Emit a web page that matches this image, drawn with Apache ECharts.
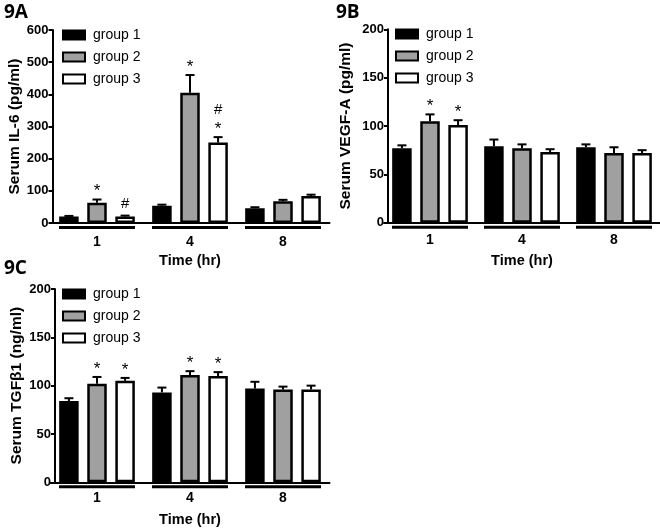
<!DOCTYPE html>
<html>
<head>
<meta charset="utf-8">
<script src="https://cdn.jsdelivr.net/npm/echarts@6/dist/echarts.min.js"></script>
<style>html,body{margin:0;padding:0;background:#fff}#c{width:660px;height:530px}</style>
</head>
<body>
<div id="c"></div>
<script>
// ---- data ----
const categories = ['1', '4', '8'];
const groupNames = ['group 1', 'group 2', 'group 3'];
const panelTitles = ['9A', '9B', '9C'];
const yNames = ['Serum IL-6 (pg/ml)', 'Serum VEGF-A (pg/ml)', 'Serum TGFβ1 (ng/ml)'];
const xName = 'Time (hr)';
const yMax = [600, 200, 200];
const yStep = [100, 50, 50];

// IL-6 (9A)
const il6_g1 = [20, 54, 46];
const il6_g1_err = [2, 3, 3];
const il6_g2 = [63, 405, 68];
const il6_g2_err = [10, 55, 4];
const il6_g3 = [20, 250, 84];
const il6_g3_err = [3, 17, 4];
const il6_g1_ann = ['', '', ''];
const il6_g2_ann = ['*', '*', ''];
const il6_g3_ann = ['#', '#\n*', ''];

// VEGF-A (9B)
const vegf_g1 = [77, 79, 78];
const vegf_g1_err = [3, 7, 3];
const vegf_g2 = [105, 77, 72];
const vegf_g2_err = [7, 4, 6];
const vegf_g3 = [101, 73, 72];
const vegf_g3_err = [5, 3, 3];
const vegf_g1_ann = ['', '', ''];
const vegf_g2_ann = ['*', '', ''];
const vegf_g3_ann = ['*', '', ''];

// TGFβ1 (9C)
const tgf_g1 = [84, 93, 97];
const tgf_g1_err = [3, 5, 7];
const tgf_g2 = [102, 111, 96];
const tgf_g2_err = [7, 4, 3];
const tgf_g3 = [105, 110, 96];
const tgf_g3_err = [3, 4, 4];
const tgf_g1_ann = ['', '', ''];
const tgf_g2_ann = ['*', '*', ''];
const tgf_g3_ann = ['*', '*', ''];

// ---- assembly ----
const means = [[il6_g1, il6_g2, il6_g3], [vegf_g1, vegf_g2, vegf_g3], [tgf_g1, tgf_g2, tgf_g3]];
const errs = [[il6_g1_err, il6_g2_err, il6_g3_err], [vegf_g1_err, vegf_g2_err, vegf_g3_err], [tgf_g1_err, tgf_g2_err, tgf_g3_err]];
const anns = [[il6_g1_ann, il6_g2_ann, il6_g3_ann], [vegf_g1_ann, vegf_g2_ann, vegf_g3_ann], [tgf_g1_ann, tgf_g2_ann, tgf_g3_ann]];

const FONT = 'Liberation Sans, Arial, sans-serif';
const fills = ['#000000', '#a0a0a0', '#ffffff'];
const BAR_W = 19.5;
const BAR_GAP = 0.44;
const STEP = BAR_W * (1 + BAR_GAP);

const grids = [
  { left: 50.5, top: 30, width: 279, height: 193 },
  { left: 384, top: 29.3, width: 276, height: 193.4 },
  { left: 50.5, top: 289, width: 279, height: 193.3 }
];
const yOffsets = [-2, -4, -4.5];
const yNameGaps = [30, 34, 30];
const xLabelMargins = [12.5, 10, 9];
const xNameGaps = [30, 30.5, 30];
const legendPos = [{ left: 62, top: 28 }, { left: 395, top: 27 }, { left: 62, top: 287 }];
const titlePos = [{ left: 4, top: 3 }, { left: 336, top: 3 }, { left: 4, top: 259 }];

const series = [];
for (let p = 0; p < 3; p++) {
  for (let g = 0; g < 3; g++) {
    series.push({
      type: 'bar', name: groupNames[g], xAxisIndex: p, yAxisIndex: p,
      data: means[p][g], barWidth: BAR_W, barGap: (BAR_GAP * 100) + '%',
      itemStyle: { color: fills[g], borderColor: '#000', borderWidth: 2.5 },
      emphasis: { disabled: true }, z: 2
    });
  }
  for (let g = 0; g < 3; g++) {
    const m = means[p][g], e = errs[p][g], a = anns[p][g];
    series.push({
      type: 'custom', name: 'err' + p + g, xAxisIndex: p, yAxisIndex: p, z: 3,
      encode: { x: 0, y: 1 },
      data: m.map((v, i) => [i, v, e[i]]),
      renderItem: function (params, api) {
        const base = api.coord([api.value(0), api.value(1)]);
        const top = api.coord([api.value(0), api.value(1) + api.value(2)]);
        const x = base[0] + (g - 1) * STEP;
        const children = [
          { type: 'line', shape: { x1: x, y1: base[1], x2: x, y2: top[1] }, style: { stroke: '#000', lineWidth: 2 } },
          { type: 'line', shape: { x1: x - 4.5, y1: top[1], x2: x + 4.5, y2: top[1] }, style: { stroke: '#000', lineWidth: 2 } }
        ];
        const t = a[params.dataIndex];
        if (t) {
          const lines = t.split('\n').reverse();
          lines.forEach((ln, k) => {
            const target = top[1] - 12 - 15 * k;
            const yy = ln === '*' ? target + 4 : target;
            children.push({
              type: 'text', x: x, y: yy,
              style: { text: ln, fill: '#000', font: (ln === '*' ? '17px ' : '15px ') + FONT, align: 'center', verticalAlign: 'middle' }
            });
          });
        }
        return { type: 'group', children: children };
      }
    });
  }
  series.push({
    type: 'custom', name: 'under' + p, xAxisIndex: p, yAxisIndex: p, z: 3,
    encode: { x: 0, y: 1 },
    data: categories.map((c, i) => [i, 0]),
    renderItem: function (params, api) {
      const c = api.coord([api.value(0), 0]);
      return { type: 'line', shape: { x1: c[0] - 38, y1: c[1] + 4.5, x2: c[0] + 38, y2: c[1] + 4.5 }, style: { stroke: '#000', lineWidth: 3 } };
    }
  });
}

const option = {
  animation: false,
  backgroundColor: '#fff',
  title: panelTitles.map((t, i) => ({
    text: t, left: titlePos[i].left, top: titlePos[i].top, padding: 0,
    textStyle: { fontSize: 19, fontWeight: 'bold', fontFamily: 'Open Sans', color: '#000' }
  })),
  legend: legendPos.map((lp) => ({
    orient: 'vertical', left: lp.left, top: lp.top, icon: 'rect', padding: 0,
    itemWidth: 22, itemHeight: 9, itemGap: 8, selectedMode: false,
    data: groupNames.map((n, g) => ({ name: n, itemStyle: { color: fills[g], borderColor: '#000', borderWidth: 2 } })),
    textStyle: { fontSize: 14, fontFamily: FONT, color: '#000', padding: [0, 0, 0, 3] }
  })),
  grid: grids,
  xAxis: grids.map((gr, i) => ({
    type: 'category', gridIndex: i, data: categories,
    axisLine: { show: true, lineStyle: { color: '#000', width: 2 } },
    axisTick: { show: false },
    axisLabel: { fontSize: 14, fontWeight: 'bold', color: '#000', fontFamily: FONT, margin: xLabelMargins[i] },
    name: xName, nameLocation: 'middle', nameGap: xNameGaps[i],
    nameTextStyle: { fontSize: 14.5, fontWeight: 'bold', color: '#000', fontFamily: FONT }
  })),
  yAxis: grids.map((gr, i) => ({
    type: 'value', gridIndex: i, min: 0, max: yMax[i], interval: yStep[i], offset: yOffsets[i],
    axisLine: { show: true, lineStyle: { color: '#000', width: 2 } },
    axisTick: { show: true, length: 4, lineStyle: { color: '#000', width: 2 } },
    splitLine: { show: false },
    axisLabel: { fontSize: 13, fontWeight: 'bold', color: '#000', fontFamily: FONT, margin: 4 },
    name: yNames[i], nameLocation: 'middle', nameGap: yNameGaps[i],
    nameTextStyle: { fontSize: 15.5, fontWeight: 'bold', color: '#000', fontFamily: FONT }
  })),
  series: series
};

const chart = echarts.init(document.getElementById('c'), null, { renderer: 'canvas' });
chart.setOption(option);
</script>
</body>
</html>
